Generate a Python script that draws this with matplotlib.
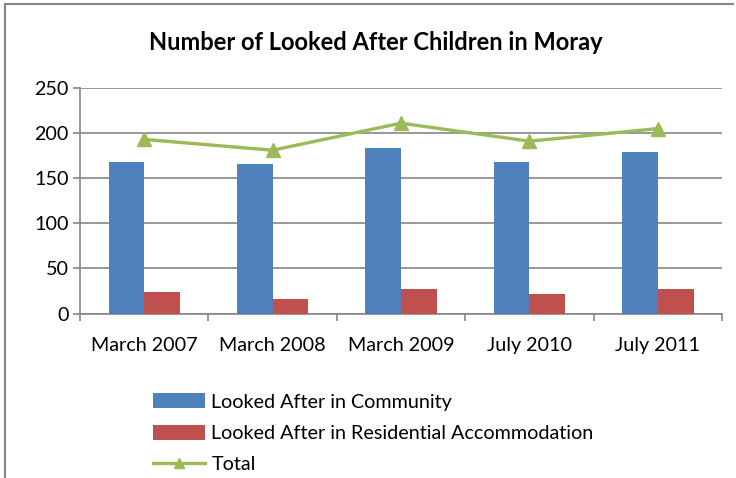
import matplotlib.pyplot as plt
import numpy as np

# data
periods = ["March 2007", "March 2008", "March 2009", "July 2010", "July 2011"]
community = [168, 166, 184, 168, 179]
residential = [24, 16, 27, 22, 27]
total = [193, 181, 211, 191, 205]

blue = "#4F81BD"
red = "#C0504D"
green = "#9BBB59"
grey = "#868686"

plt.rcParams['font.family'] = ['Lato', 'DejaVu Sans']

fig = plt.figure(figsize=(7.36, 4.78), dpi=100)
ax = fig.add_axes([0.1087, 0.344, 0.8723, 0.472])

x = np.arange(len(periods))
w = 0.278
b1 = ax.bar(x - w / 2, community, w, color=blue, label="Looked After in Community", zorder=3)
b2 = ax.bar(x + w / 2, residential, w, color=red, label="Looked After in Residential Accommodation", zorder=3)
l1, = ax.plot(x, total, color=green, lw=2.4, marker="^", ms=10, label="Total", zorder=4)

ax.set_xlim(-0.5, len(periods) - 0.5)
ax.set_ylim(0, 250)
ax.set_yticks(range(0, 251, 50))
ax.yaxis.grid(True, color=grey, lw=1.2, zorder=0)
ax.set_xticks(x)
ax.set_xticklabels(periods, fontsize=14.2)
ax.tick_params(axis="x", length=0, pad=17)
ax.set_xticks(np.arange(-0.5, len(periods)), minor=True)
ax.tick_params(axis="x", which="minor", length=5, color=grey, width=1.2)
ax.tick_params(axis="y", labelsize=14.2, length=5, color=grey, width=1.2, pad=3)
for s in ["top", "right"]:
    ax.spines[s].set_visible(False)
ax.spines["left"].set_color(grey)
ax.spines["bottom"].set_color(grey)
ax.spines["left"].set_linewidth(1.2)
ax.spines["bottom"].set_linewidth(1.2)

fig.text(0.51, 0.912, "Number of Looked After Children in Moray",
         ha="center", va="center", fontsize=17, fontweight="bold")

fig.legend([b1, b2, l1], [b1.get_label(), b2.get_label(), l1.get_label()],
           loc="upper left", bbox_to_anchor=(0.208, 0.177), frameon=False,
           fontsize=14.2, handlelength=2.65, handleheight=0.8,
           handletextpad=0.3, labelspacing=0.7, borderaxespad=0,
           borderpad=0, markerscale=0.7)

# chart frame (cropped Excel chart border)
fig.add_artist(plt.Line2D([0.007, 0.007], [0, 0.992], color=grey, lw=1.5))
fig.add_artist(plt.Line2D([0.007, 0.996], [0.992, 0.992], color=grey, lw=1.5))

fig.savefig("out.png", dpi=100)
